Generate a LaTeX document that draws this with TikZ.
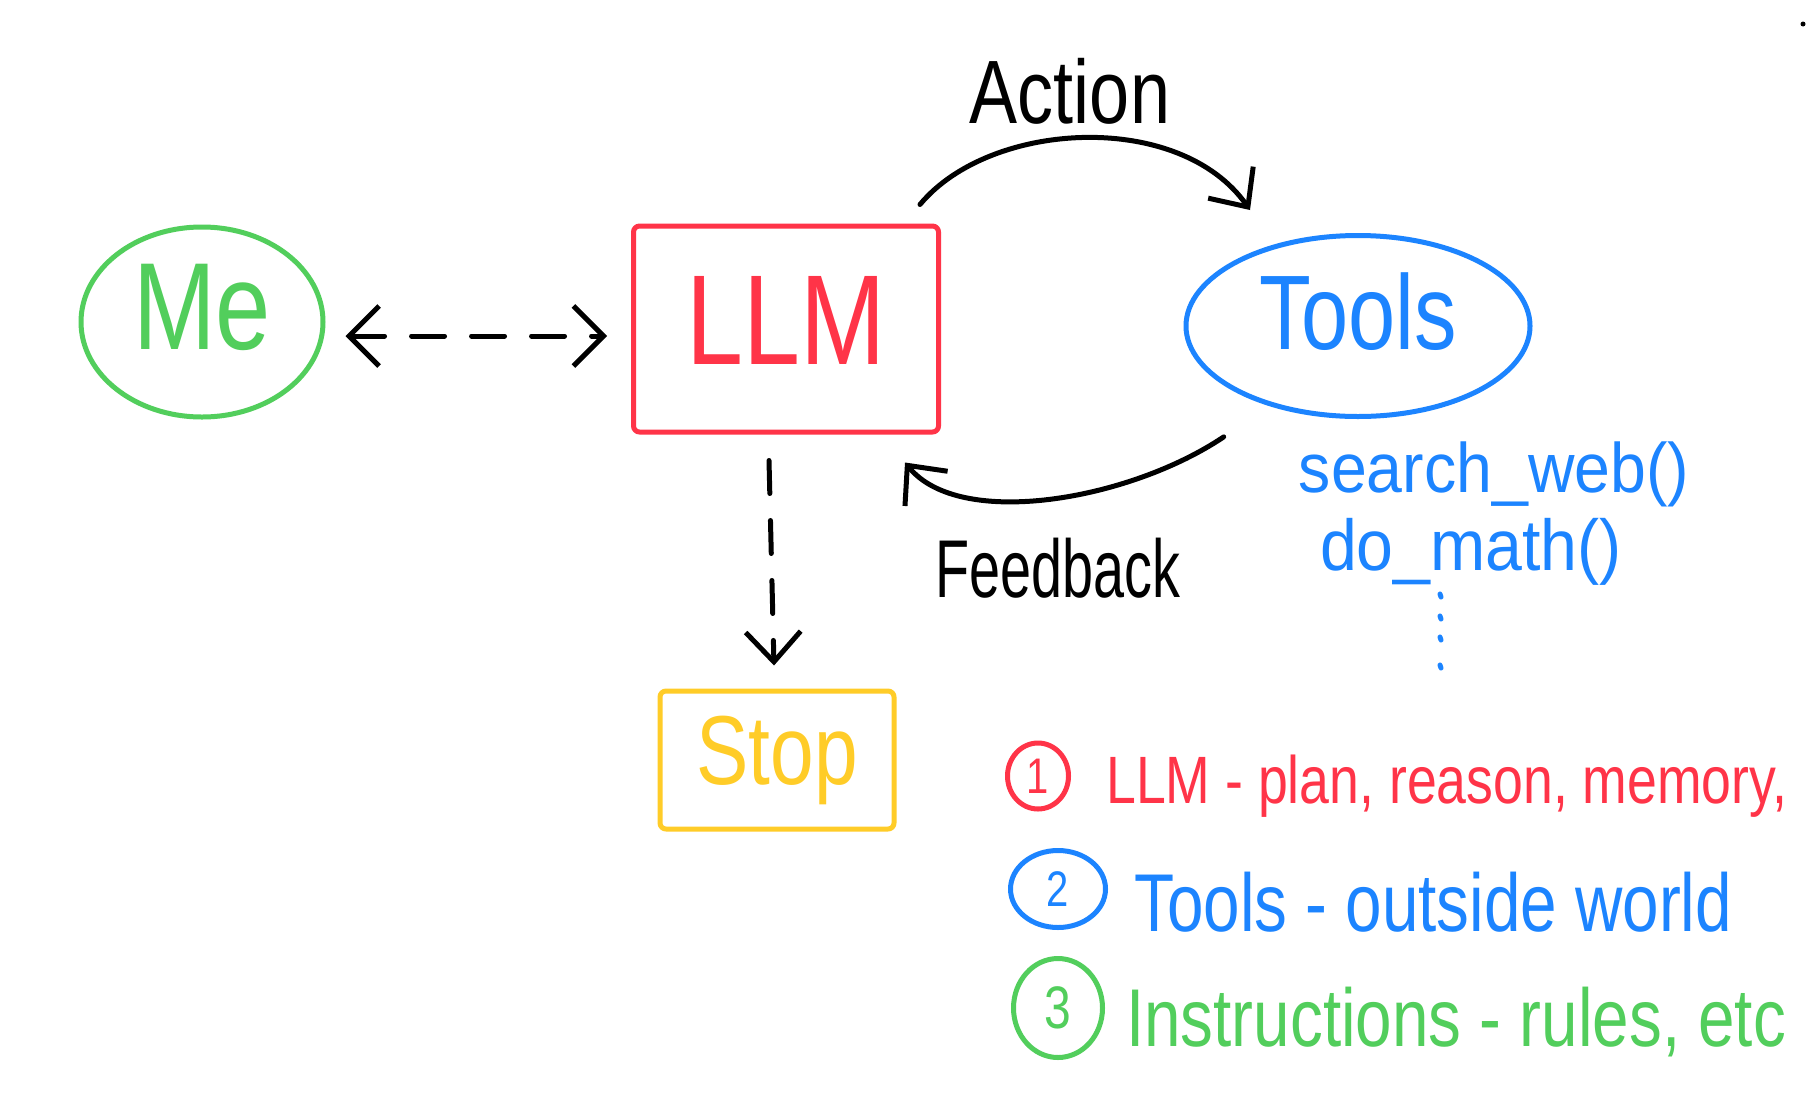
\documentclass[tikz,border=0pt]{standalone}
\usepackage{fontspec}
\setmainfont[FakeStretch=0.8]{Liberation Sans}
\newfontfamily\handwide[FakeStretch=0.92]{Liberation Sans}
\newfontfamily\handnarrow[FakeStretch=0.68]{Liberation Sans}
\usetikzlibrary{shapes.geometric,arrows.meta}
\definecolor{hgreen}{RGB}{82,206,92}
\definecolor{hred}{RGB}{255,52,72}
\definecolor{hblue}{RGB}{28,132,255}
\definecolor{hyellow}{RGB}{255,204,40}
\begin{document}
\begin{tikzpicture}[x=1pt,y=-1pt,
  ink/.style={line width=5pt, line cap=round, line join=round},
  boxnode/.style={draw, ink, rectangle, rounded corners=6pt, inner sep=0pt},
  blob/.style={draw, ink, ellipse, inner sep=0pt},
  fs/.style={font=\fontsize{#1}{#1}\selectfont},
  fsw/.style={font=\handwide\fontsize{#1}{#1}\selectfont},
  fsn/.style={font=\handnarrow\fontsize{#1}{#1}\selectfont},
  dashline/.style={ink, dash pattern=on 33pt off 27pt},
  barb/.style={-{Straight Barb[length=30pt,width=55pt]}},
  dbarb/.style={{Straight Barb[length=30pt,width=60pt]}-{Straight Barb[length=30pt,width=60pt]}},
]
\fill[white] (0,0) rectangle (1806,1106);
\useasboundingbox (0,0) rectangle (1806,1106);

% main nodes
\node[blob, hgreen, minimum width=242pt, minimum height=190pt, fs=124, text depth=30pt] (me) at (202,322) {Me};
\node[boxnode, hred, minimum width=305pt, minimum height=206pt, fs=128, text depth=18pt] (llm) at (786,329) {LLM};
\node[blob, hblue, minimum width=344pt, minimum height=181pt, fs=106, text depth=30pt] (tools) at (1358,326) {Tools};
\node[boxnode, hyellow, minimum width=234pt, minimum height=138pt, fs=98] (stop) at (777,760) {Stop};

% connectors
\draw[dashline, dbarb] ([shift={(20,14)}]me.east) -- ([shift={(-24,7)}]llm.west);
\draw[dashline, barb] ([shift={(-17,26)}]llm.south) -- ([shift={(-3,-23)}]stop.north);
\draw[ink, barb] ([shift={(-21,-19)}]llm.north east) .. controls (990,120) and (1180,110) .. ([shift={(-108,-23)}]tools.north);
\draw[ink, barb] ([shift={(-83,22)}]tools.240) .. controls (1130,500) and (960,530) .. ([shift={(-36,28)}]llm.south east);

% labels
\node[fs=90, anchor=base] (action) at (1070,123) {Action};
\node[fsn=82, anchor=base] (feedback) at (1058,597) {Feedback};
\node[hblue, fsw=70, anchor=base] (sw) at (1494,492) {search\_web()};
\node[hblue, fsw=72, anchor=base] (dm) at (1471,570) {do\_math()};
\foreach \yy in {594,616,637,665}{\draw[ink, hblue] (1440,\yy) -- (1441,\yy+3);}

% legend
\node[blob, hred, minimum width=61pt, minimum height=66pt, fs=50] (n1) at (1038,776) {1};
\node[hred, fs=67, anchor=base west, inner sep=0pt] (l1) at (1106,803) {LLM - plan, reason, memory,};
\node[blob, hblue, minimum width=95pt, minimum height=77pt, fs=50] (n2) at (1058,889) {2};
\node[hblue, fs=82, anchor=base west, inner sep=0pt] (l2) at (1134,931) {Tools - outside world};
\node[blob, hgreen, minimum width=89pt, minimum height=99pt, fs=60] (n3) at (1058,1008) {3};
\node[hgreen, fs=82, anchor=base west, inner sep=0pt] (l3) at (1126,1046) {Instructions - rules, etc};

\fill (1803,24) circle (2.5pt);
\end{tikzpicture}
\end{document}
